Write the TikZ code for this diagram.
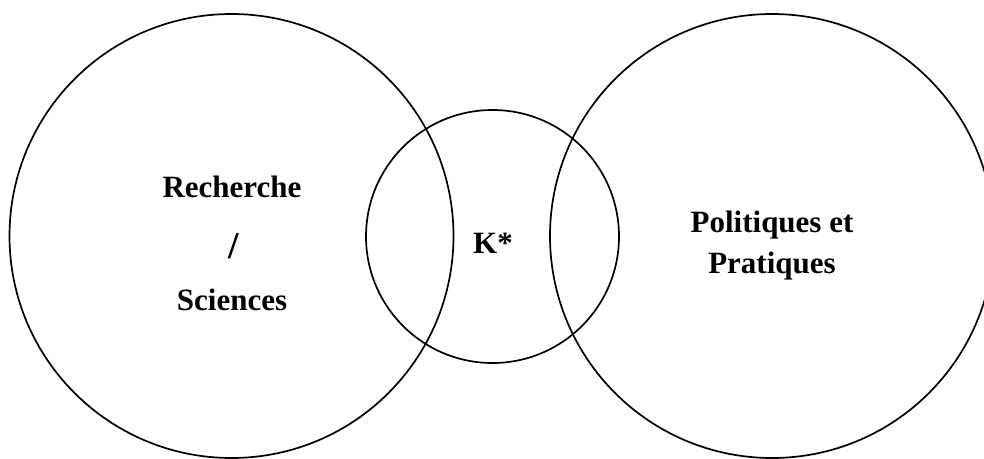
\documentclass[tikz,border=0pt]{standalone}
\usepackage{fontspec}
\setmainfont{Liberation Serif}
\begin{document}
\begin{tikzpicture}[x=1pt,y=-1pt,
  ring/.style={draw=black,line width=1.7pt},
  lbl/.style={font=\fontsize{31}{36}\selectfont\bfseries,inner sep=0pt,anchor=base}]
\useasboundingbox (0,0) rectangle (984,458);
\draw[ring] (231.5,236) circle[radius=222];
\draw[ring] (492.5,236.5) circle[radius=126.5];
\draw[ring] (772,236) circle[radius=222];
\node[lbl] (rech) at (232,197) {Recherche};
\node[lbl,font=\fontsize{38}{40}\selectfont\bfseries] (slash) at (234,258) {/};
\node[lbl] (sci) at (232,310) {Sciences};
\node[lbl] (k) at (493,253) {K*};
\node[lbl] (pol) at (772,232) {Politiques et};
\node[lbl] (pra) at (772,273) {Pratiques};
\end{tikzpicture}
\end{document}
